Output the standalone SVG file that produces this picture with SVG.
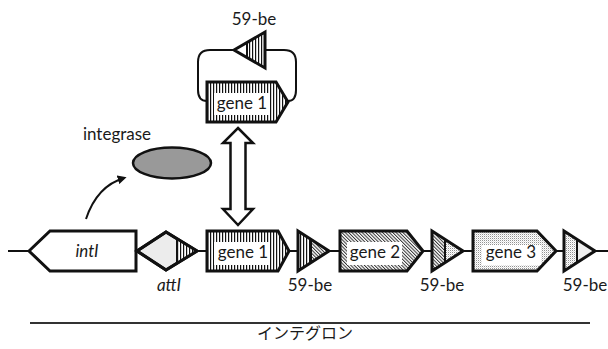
<svg xmlns="http://www.w3.org/2000/svg" width="608" height="349" viewBox="0 0 608 349">
  <style>
    .shape { stroke: #111; stroke-width: 3; stroke-linejoin: miter; }
    .thin { stroke: #111; stroke-width: 2; fill: none; }
    .lbl { font-family: Lato, "Liberation Sans", sans-serif; font-size: 17px; fill: #1a1a1a; text-anchor: middle; }
    .it { font-style: italic; }
    .jp { font-family: "Noto Sans CJK JP", sans-serif; font-size: 16px; fill: #1a1a1a; text-anchor: middle; }
    .plate { fill: #fff; }
  </style>
  <defs>
    <!-- vertical stripes (gene 1) -->
    <pattern id="vstripe" width="3" height="4" patternUnits="userSpaceOnUse">
      <rect width="3" height="4" fill="#fff"/>
      <rect width="1.2" height="4" fill="#111"/>
    </pattern>
    <!-- diagonal hatch (gene 2) -->
    <pattern id="diag" width="2.4" height="2.4" patternUnits="userSpaceOnUse" patternTransform="rotate(-45)">
      <rect width="2.4" height="2.4" fill="#fff"/>
      <rect width="1" height="2.4" fill="#333"/>
    </pattern>
    <!-- stipple (gene 3) -->
    <pattern id="dots" width="2" height="2" patternUnits="userSpaceOnUse">
      <rect width="2" height="2" fill="#fff"/>
      <rect width="0.9" height="0.9" fill="#777"/>
      <rect x="1" y="1" width="0.6" height="0.6" fill="#aaa"/>
    </pattern>
    <marker id="head" viewBox="0 0 10 10" refX="7" refY="5" markerWidth="4.5" markerHeight="4.5" orient="auto">
      <path d="M0,0 L10,5 L0,10 Z" fill="#111"/>
    </marker>
  </defs>

  <!-- connectors -->
  <g id="connectors">
    <line x1="8" y1="251" x2="608" y2="251" class="thin"/>
    <path d="M86,219 Q97,186 124,178" class="thin" stroke-width="2.5" marker-end="url(#head)"/>
    <path d="M238,128 L253,143 L245.5,143 L245.5,209 L253,209 L238,225 L223,209 L230.5,209 L230.5,143 L223,143 Z" fill="#fff" stroke="#111" stroke-width="2.5" stroke-linejoin="miter"/>
    <!-- circular cassette loop -->
    <path d="M234,50 H210 Q198,50 198,62 V90 Q198,101 207,101" class="thin" stroke-width="2.5"/>
    <path d="M265,50 H284 Q296,50 296,62 V90 Q296,101 288,101" class="thin" stroke-width="2.5"/>
  </g>

  <!-- excised cassette -->
  <g id="cassette-59be">
    <polygon points="234,50 265,32 265,68" fill="#fff"/>
    <polygon points="247,42.5 265,32 265,68 247,57.5" fill="url(#vstripe)"/>
    <polygon points="234,50 265,32 265,68" class="shape" fill="none"/>
    <line x1="247" y1="42.5" x2="247" y2="57.5" stroke="#111" stroke-width="2"/>
    <text x="254" y="25" class="lbl">59-be</text>
  </g>
  <g id="cassette-gene1">
    <polygon points="207,82 276,82 288,102 276,122 207,122" class="shape" fill="url(#vstripe)"/>
    <rect x="214" y="93" width="55" height="22" class="plate"/>
    <text x="242" y="109" class="lbl">gene 1</text>
  </g>

  <!-- integrase protein -->
  <g id="integrase">
    <ellipse cx="172" cy="163" rx="39" ry="15.5" fill="#999" stroke="#111" stroke-width="2.5"/>
    <text x="117" y="140" class="lbl">integrase</text>
  </g>

  <!-- integron -->
  <g id="intI">
    <polygon points="29,251 50,231 136,231 136,271 50,271" class="shape" fill="#fff"/>
    <text x="87" y="257" class="lbl it">intI</text>
  </g>
  <g id="attI">
    <polygon points="137,251 166,232 197,251 166,270" class="shape" fill="#ececec"/>
    <polygon points="177,238.7 197,251 177,263.3" fill="url(#vstripe)"/>
    <polygon points="137,251 166,232 197,251 166,270" class="shape" fill="none"/>
    <line x1="177" y1="239" x2="177" y2="263" stroke="#111" stroke-width="2"/>
    <text x="169" y="291" class="lbl it">attI</text>
  </g>
  <g id="gene1">
    <polygon points="207,231 278,231 289,251 278,271 207,271" class="shape" fill="url(#vstripe)"/>
    <rect x="214" y="242" width="55" height="23" class="plate"/>
    <text x="243" y="258" class="lbl">gene 1</text>
  </g>
  <g id="be1">
    <polygon points="298,231 311,239.4 311,262.6 298,271" fill="url(#vstripe)"/>
    <polygon points="311,239.4 329,251 311,262.6" fill="url(#diag)"/>
    <polygon points="298,231 329,251 298,271" class="shape" fill="none"/>
    <line x1="311" y1="240" x2="311" y2="262" stroke="#111" stroke-width="2"/>
    <text x="310" y="291" class="lbl">59-be</text>
  </g>
  <g id="gene2">
    <polygon points="340,231 407,231 423,251 407,271 340,271" class="shape" fill="url(#diag)"/>
    <rect x="347" y="242" width="55" height="23" class="plate"/>
    <text x="375" y="258" class="lbl">gene 2</text>
  </g>
  <g id="be2">
    <polygon points="432,231 445,239.4 445,262.6 432,271" fill="url(#diag)"/>
    <polygon points="445,239.4 463,251 445,262.6" fill="url(#dots)"/>
    <polygon points="432,231 463,251 432,271" class="shape" fill="none"/>
    <line x1="445" y1="240" x2="445" y2="262" stroke="#111" stroke-width="2"/>
    <text x="442" y="291" class="lbl">59-be</text>
  </g>
  <g id="gene3">
    <polygon points="473,231 537,231 556,251 537,271 473,271" class="shape" fill="url(#dots)"/>
    <rect x="482" y="245" width="59" height="20" class="plate"/>
    <text x="511" y="258" class="lbl">gene 3</text>
  </g>
  <g id="be3">
    <polygon points="564,231 577,239.4 577,262.6 564,271" fill="url(#dots)"/>
    <polygon points="577,239.4 595,251 577,262.6" fill="#eee"/>
    <polygon points="564,231 595,251 564,271" class="shape" fill="none"/>
    <line x1="577" y1="240" x2="577" y2="262" stroke="#111" stroke-width="2"/>
    <text x="585" y="291" class="lbl">59-be</text>
  </g>

  <!-- integron extent -->
  <g id="integron-span">
    <line x1="30" y1="323" x2="590" y2="323" stroke="#333" stroke-width="2"/>
    <text x="305" y="339" class="jp">インテグロン</text>
  </g>
</svg>
